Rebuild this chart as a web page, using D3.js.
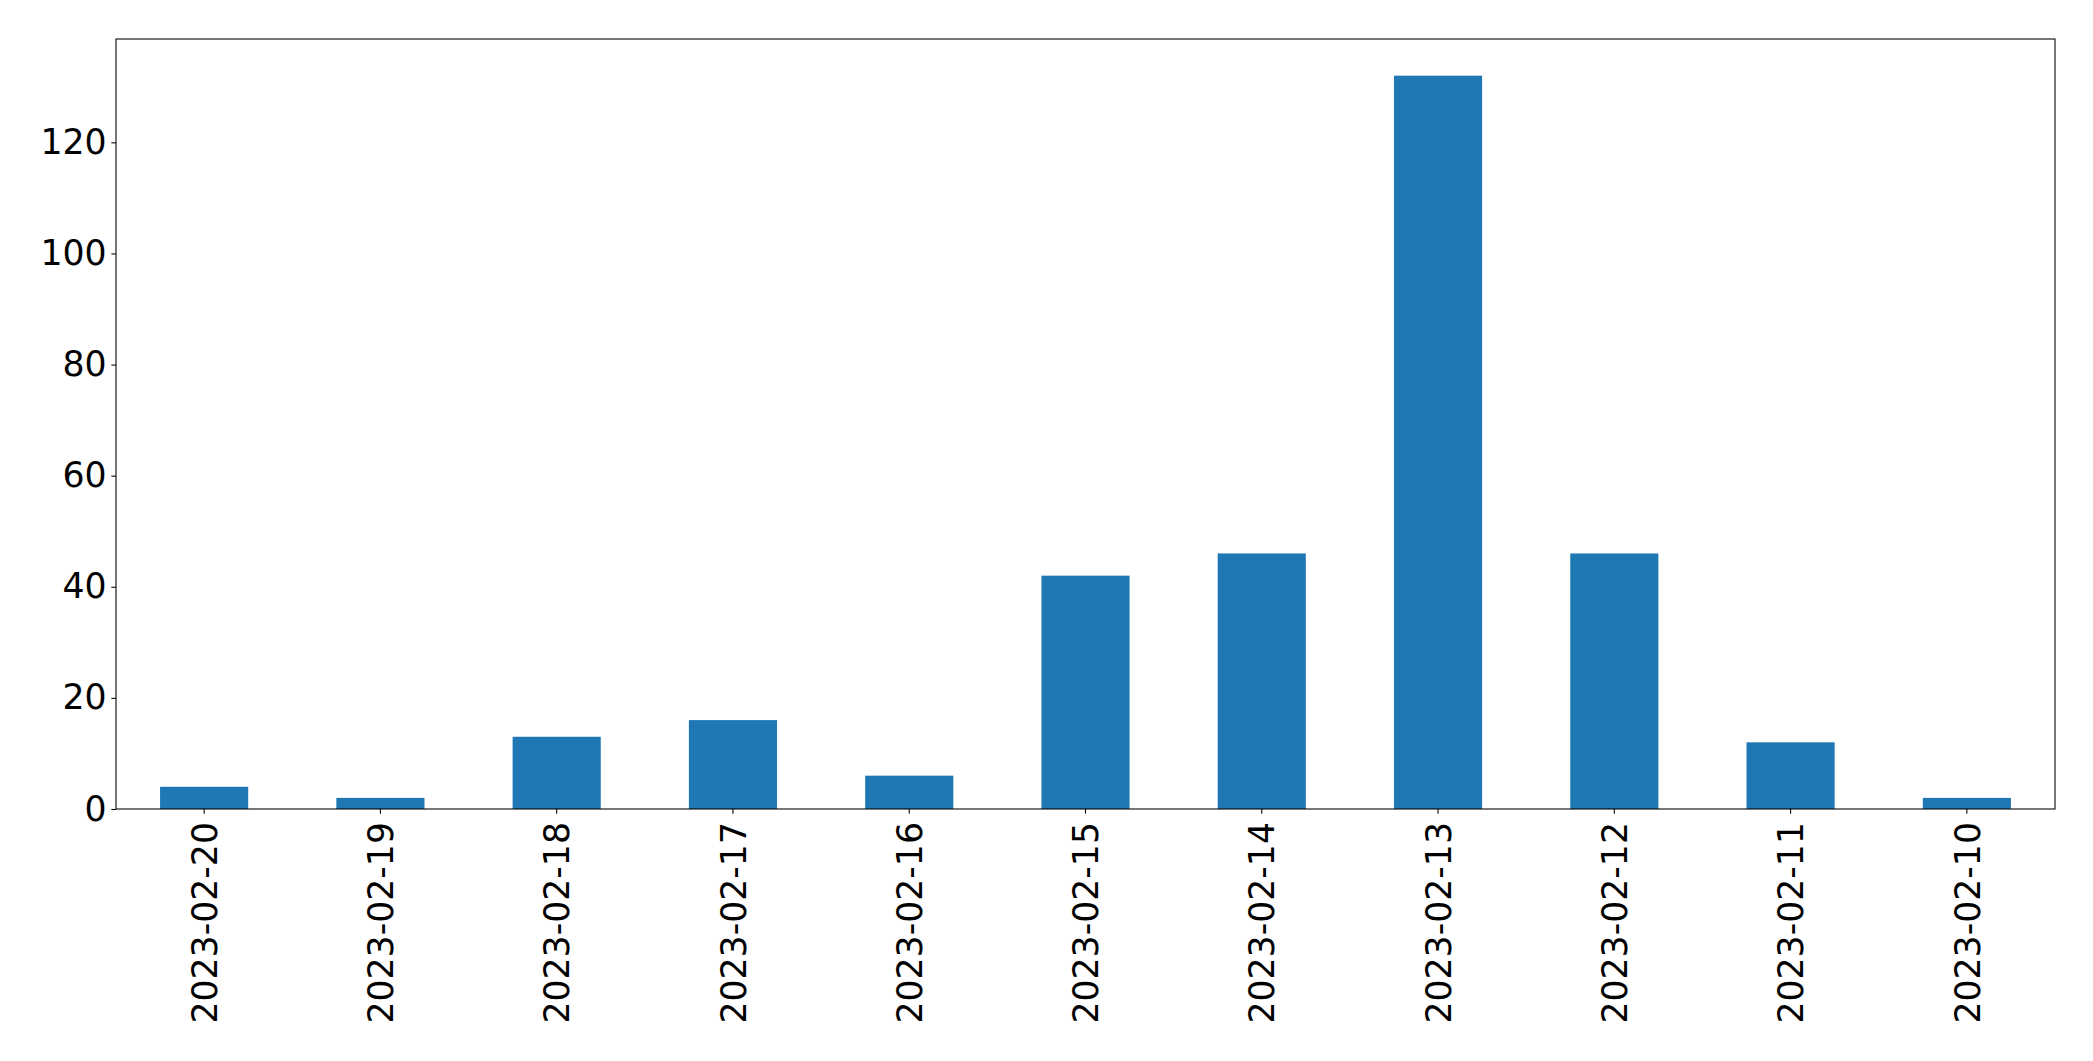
<!DOCTYPE html>
<html>
<head>
<meta charset="utf-8">
<script src="https://cdn.jsdelivr.net/npm/d3@7"></script>
<style>
  html, body { margin: 0; padding: 0; background: #fff; }
  svg { display: block; }
  text { font-family: "DejaVu Sans", sans-serif; fill: #000; }
</style>
</head>
<body>
<svg id="chart" width="2093" height="1061"></svg>
<script>
const categories = ["2023-02-20","2023-02-19","2023-02-18","2023-02-17","2023-02-16","2023-02-15","2023-02-14","2023-02-13","2023-02-12","2023-02-11","2023-02-10"];
const values = [4, 2, 13, 16, 6, 42, 46, 132, 46, 12, 2];
const yTicks = [0, 20, 40, 60, 80, 100, 120];

const W = 2093, H = 1061;
const m = { left: 116, right: 2055, top: 39, bottom: 809 };
const svg = d3.select("#chart");

const x = d3.scaleBand().domain(categories).range([m.left, m.right]).paddingInner(0.5).paddingOuter(0.25);
const y = d3.scaleLinear().domain([0, d3.max(values) * 1.05]).range([m.bottom, m.top]);

svg.append("g").selectAll("rect").data(values).join("rect")
  .attr("x", (d, i) => x(categories[i]))
  .attr("width", x.bandwidth())
  .attr("y", d => y(d))
  .attr("height", d => y(0) - y(d))
  .attr("fill", "#1f77b4");

const fs = 34.7;
const tickLen = 4.67;

// y axis
const ya = svg.append("g").attr("transform", `translate(${m.left},0)`)
  .call(d3.axisLeft(y).tickValues(yTicks).tickSize(tickLen).tickPadding(4.67).tickFormat(d3.format("d")));
ya.select(".domain").remove();
ya.selectAll("line").attr("stroke", "#000").attr("stroke-width", 1.07);
ya.selectAll("text").attr("font-size", fs).attr("font-family", "DejaVu Sans").attr("fill", "#000");

// x axis
const xa = svg.append("g").attr("transform", `translate(0,${m.bottom})`)
  .call(d3.axisBottom(x).tickSize(tickLen).tickPadding(0));
xa.select(".domain").remove();
xa.selectAll("line").attr("stroke", "#000").attr("stroke-width", 1.07);
xa.selectAll("text")
  .attr("font-size", fs).attr("font-family", "DejaVu Sans").attr("fill", "#000")
  .attr("text-anchor", "end")
  .attr("y", 0).attr("dy", null)
  .attr("transform", "translate(0,13) rotate(-90)")
  .attr("dy", "0.365em");

// frame
svg.append("rect")
  .attr("x", m.left).attr("y", m.top)
  .attr("width", m.right - m.left).attr("height", m.bottom - m.top)
  .attr("fill", "none").attr("stroke", "#000").attr("stroke-width", 1.07);
</script>
</body>
</html>
